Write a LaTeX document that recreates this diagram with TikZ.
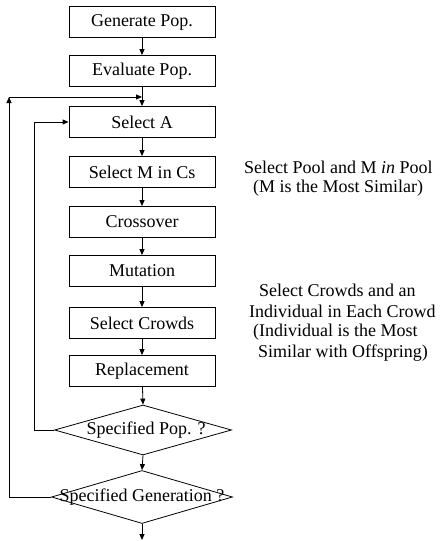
\documentclass[tikz,border=0pt]{standalone}
\usepackage{fontspec}
\setmainfont{Liberation Serif}
\usetikzlibrary{shapes.geometric,arrows.meta}
\begin{document}
\begin{tikzpicture}[x=1pt,y=-1pt,
  stepbox/.style={draw, line width=0.8pt, minimum width=146pt, minimum height=31pt, inner sep=0pt, font=\fontsize{18}{20}\selectfont},
  decision/.style={draw, diamond, line width=0.8pt, inner sep=0pt},
  lbl/.style={inner sep=0pt, font=\fontsize{18}{20}\selectfont},
  side/.style={inner sep=0pt, anchor=west, font=\fontsize{18}{20}\selectfont},
  flow/.style={line width=0.8pt, -{Triangle[length=6pt,width=5pt]}},
  wire/.style={line width=0.8pt}]
\useasboundingbox (0,0) rectangle (443,541);

\node[stepbox] (gen)   at (142,22)  {Generate Pop.};
\node[stepbox] (eval)  at (142,71)  {Evaluate Pop.};
\node[stepbox] (sela)  at (142,122) {Select A};
\node[stepbox] (selm)  at (142,172) {Select M in Cs};
\node[stepbox] (cross) at (142,222) {Crossover};
\node[stepbox] (mut)   at (142,271) {Mutation};
\node[stepbox] (selc)  at (142,323) {Select Crowds};
\node[stepbox] (repl)  at (142,371) {Replacement};

\node[decision, minimum width=177pt, minimum height=50pt] (d1) at (143,430) {};
\node[lbl] (d1t) at (146,430) {Specified Pop. ?};
\node[decision, minimum width=181pt, minimum height=53pt] (d2) at (142,497) {};
\node[lbl] (d2t) at (142,497) {Specified Generation ?};

\coordinate (j) at (142,97);
\coordinate (endp) at (142,540);
\coordinate (c1) at (34,430);
\coordinate (c2) at (34,122);
\coordinate (c3) at (9,497);
\coordinate (c4) at (9,97);

\draw[flow] (gen) -- (eval);
\draw[flow] (eval) -- (sela);
\draw[flow] (sela) -- (selm);
\draw[flow] (selm) -- (cross);
\draw[flow] (cross) -- (mut);
\draw[flow] (mut) -- (selc);
\draw[flow] (selc) -- (repl);
\draw[flow] (repl) -- (d1.north);
\draw[flow] (d1.south) -- (d2.north);
\draw[flow] (d2.south) -- (endp);

\draw[flow] (d1.west) -- (c1) -- (c2) -- (sela.west);
\draw[flow] (d2.west) -- (c3) -- (c4);
\draw[flow] (c4) -- (j);

\node[side] (p1) at (244,167) {Select Pool and M \textit{in} Pool};
\node[side] (p2) at (253,188) {(M is the Most Similar)};
\node[side] (s1) at (259,290) {Select Crowds and an};
\node[side] (s2) at (249,311) {Individual in Each Crowd};
\node[side] (s3) at (253,332) {(Individual is the Most};
\node[side] (s4) at (258,353) {Similar with Offspring)};
\end{tikzpicture}
\end{document}
